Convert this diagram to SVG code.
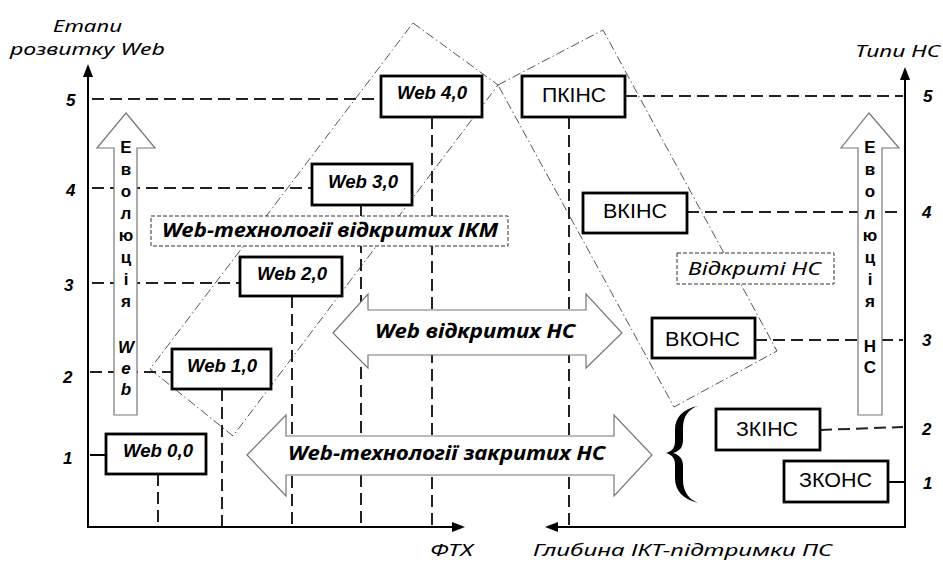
<svg xmlns="http://www.w3.org/2000/svg" width="943" height="563" viewBox="0 0 943 563">
<defs>
<style>
text{font-family:"Liberation Sans",Arial,sans-serif;fill:#000}
.ax{fill:none;stroke:#000;stroke-width:2}
.dash{fill:none;stroke:#222;stroke-width:2;stroke-dasharray:12 6}
.dd{fill:none;stroke:#555;stroke-width:1;stroke-dasharray:9 3 1.5 3}
.box{fill:#fff;stroke:#000;stroke-width:2.8}
.lbl{fill:#fff;stroke:#333;stroke-width:1;stroke-dasharray:4 2}
.harr{fill:#fff;stroke:#777;stroke-width:1.2}
.it{font-family:"Noto Sans","Liberation Sans",Arial,sans-serif}
.web{font-size:18px;font-weight:bold;font-style:italic}
.ns{font-size:20px}
.num{font-size:17px;font-weight:bold;font-style:italic}
.ttl{font-size:17px;font-style:italic}
.big{font-size:19px;font-weight:bold;font-style:italic}
.evo{font-size:17px;font-weight:bold;text-anchor:middle}
</style>
</defs>
<rect width="943" height="563" fill="#fff"/>

<g id="regions">
<polygon class="dd" points="413,23 498,85 233,436 150,369"/>
<polygon class="dd" points="498,85 603,30 777,351 674,407"/>
</g>

<g id="connectors">
<polyline class="ax" points="88,72 88,527 455,527"/>
<polygon points="88,64 83,77 93,77" fill="#000"/>
<polygon points="465,527 452,522 452,532" fill="#000"/>
<polyline class="ax" points="905,75 905,527 556,527"/>
<polygon points="905,67 900,80 910,80" fill="#000"/>
<polygon points="545,527 558,522 558,532" fill="#000"/>
<line class="dash" x1="92" y1="99" x2="381" y2="99"/>
<line class="dash" x1="92" y1="188" x2="312" y2="188"/>
<line class="dash" x1="92" y1="283" x2="240" y2="283"/>
<line class="dash" x1="90" y1="372" x2="172" y2="372"/>
<line class="ax" x1="90" y1="455" x2="106" y2="455"/>
<line class="dash" x1="625" y1="96" x2="903" y2="96"/>
<line class="dash" x1="687" y1="212" x2="903" y2="212"/>
<line class="dash" x1="755" y1="340" x2="903" y2="340"/>
<line class="dash" x1="820" y1="430" x2="903" y2="427"/>
<line class="ax" x1="888" y1="482" x2="904" y2="482"/>
<line class="dash" x1="158" y1="474" x2="158" y2="526"/>
<line class="dash" x1="222" y1="389" x2="222" y2="526"/>
<line class="dash" x1="292" y1="296" x2="292" y2="526"/>
<line class="dash" x1="361" y1="205" x2="361" y2="526"/>
<line class="dash" x1="432" y1="117" x2="432" y2="526"/>
<line class="dash" x1="569" y1="117" x2="569" y2="526"/>
</g>

<g id="labels-regions">
<rect class="lbl" x="151" y="216" width="357" height="30"/>
<text class="big it" x="162" y="237" textLength="336" lengthAdjust="spacingAndGlyphs">Web-технології відкритих ІКМ</text>
<rect class="lbl" x="677" y="253" width="157" height="31"/>
<text class="ttl it" style="font-size:19px" x="688" y="275" textLength="133" lengthAdjust="spacingAndGlyphs">Відкриті НС</text>
</g>

<g id="evo-web">
<path class="harr" d="M126,113 L155,148 L137,148 L137,415 L114,415 L114,148 L97,148 Z"/>
<text class="evo" x="126" y="153">Е</text>
<text class="evo" x="126" y="175">в</text>
<text class="evo" x="126" y="197">о</text>
<text class="evo" x="126" y="219">л</text>
<text class="evo" x="126" y="241">ю</text>
<text class="evo" x="126" y="263">ц</text>
<text class="evo" x="126" y="285">і</text>
<text class="evo" x="126" y="307">я</text>
<text class="evo" style="font-style:italic" x="126" y="353">W</text>
<text class="evo" style="font-style:italic" x="126" y="374">e</text>
<text class="evo" style="font-style:italic" x="126" y="395">b</text>
</g>

<g id="evo-ns">
<path class="harr" d="M869,113 L899,148 L882,148 L882,415 L858,415 L858,148 L841,148 Z"/>
<text class="evo" x="870" y="153">Е</text>
<text class="evo" x="870" y="175">в</text>
<text class="evo" x="870" y="197">о</text>
<text class="evo" x="870" y="219">л</text>
<text class="evo" x="870" y="241">ю</text>
<text class="evo" x="870" y="263">ц</text>
<text class="evo" x="870" y="285">і</text>
<text class="evo" x="870" y="307">я</text>
<text class="evo" x="870" y="352">Н</text>
<text class="evo" x="870" y="373">С</text>
</g>

<g id="arrow-open">
<path class="harr" d="M333,333 L368,294 L368,310 L586,310 L586,294 L622,333 L586,368 L586,355 L368,355 L368,368 Z"/>
<text class="big it" x="375" y="338" textLength="200" lengthAdjust="spacingAndGlyphs">Web відкритих НС</text>
</g>

<g id="arrow-closed">
<path class="harr" d="M247,455 L286,415 L286,436 L614,436 L614,415 L652,455 L614,496 L614,475 L286,475 L286,496 Z"/>
<text class="big it" x="288" y="460" textLength="317" lengthAdjust="spacingAndGlyphs">Web-технології закритих НС</text>
</g>

<g id="web40"><rect class="box" x="381" y="76" width="101" height="41"/><text class="web" x="397" y="99" textLength="70" lengthAdjust="spacingAndGlyphs">Web 4,0</text></g>
<g id="web30"><rect class="box" x="312" y="164" width="100" height="41"/><text class="web" x="328" y="188" textLength="70" lengthAdjust="spacingAndGlyphs">Web 3,0</text></g>
<g id="web20"><rect class="box" x="240" y="257" width="102" height="39"/><text class="web" x="257" y="280" textLength="70" lengthAdjust="spacingAndGlyphs">Web 2,0</text></g>
<g id="web10"><rect class="box" x="172" y="349" width="99" height="40"/><text class="web" x="187" y="372" textLength="70" lengthAdjust="spacingAndGlyphs">Web 1,0</text></g>
<g id="web00"><rect class="box" x="106" y="434" width="100" height="40"/><text class="web" x="123" y="457" textLength="70" lengthAdjust="spacingAndGlyphs">Web 0,0</text></g>

<g id="pkins"><rect class="box" x="522" y="76" width="103" height="41"/><text class="ns" x="542" y="102" textLength="64" lengthAdjust="spacingAndGlyphs">ПКІНС</text></g>
<g id="vkins"><rect class="box" x="583" y="193" width="104" height="40"/><text class="ns" x="603" y="218" textLength="64" lengthAdjust="spacingAndGlyphs">ВКІНС</text></g>
<g id="vkons"><rect class="box" x="652" y="318" width="103" height="40"/><text class="ns" x="665" y="346" textLength="75" lengthAdjust="spacingAndGlyphs">ВКОНС</text></g>
<g id="zkins"><rect class="box" x="716" y="409" width="104" height="41"/><text class="ns" x="736" y="436" textLength="62" lengthAdjust="spacingAndGlyphs">ЗКІНС</text></g>
<g id="zkons"><rect class="box" x="784" y="461" width="104" height="41"/><text class="ns" x="799" y="487" textLength="73" lengthAdjust="spacingAndGlyphs">ЗКОНС</text></g>

<g id="brace">
<path fill="#000" d="M698,406 C683,409 675,417 675,430 L675,441 C675,448 672,451 666,453 C672,455 675,458 675,465 L675,478 C675,491 683,499 698,503 C689,499 683,492 683,480 L683,466 C683,459 680,455 673,453 C680,451 683,447 683,440 L683,428 C683,416 689,409 698,406 Z"/>
</g>

<g id="axis-labels">
<text class="ttl it" x="53" y="31.5" textLength="69" lengthAdjust="spacingAndGlyphs">Етапи</text>
<text class="ttl it" x="10" y="54.5" textLength="155" lengthAdjust="spacingAndGlyphs">розвитку Web</text>
<text class="ttl it" x="855" y="57" textLength="85" lengthAdjust="spacingAndGlyphs">Типи НС</text>
<text class="ttl it" x="430" y="556" textLength="43" lengthAdjust="spacingAndGlyphs">ФТХ</text>
<text class="ttl it" x="533" y="556" textLength="299" lengthAdjust="spacingAndGlyphs">Глибина ІКТ-підтримки ПС</text>
<text class="num" x="66" y="106">5</text>
<text class="num" x="66" y="196">4</text>
<text class="num" x="64" y="291">3</text>
<text class="num" x="63" y="383">2</text>
<text class="num" x="63" y="464">1</text>
<text class="num" x="923" y="102">5</text>
<text class="num" x="922" y="218">4</text>
<text class="num" x="922" y="346">3</text>
<text class="num" x="922" y="435">2</text>
<text class="num" x="923" y="489">1</text>
</g>
</svg>
